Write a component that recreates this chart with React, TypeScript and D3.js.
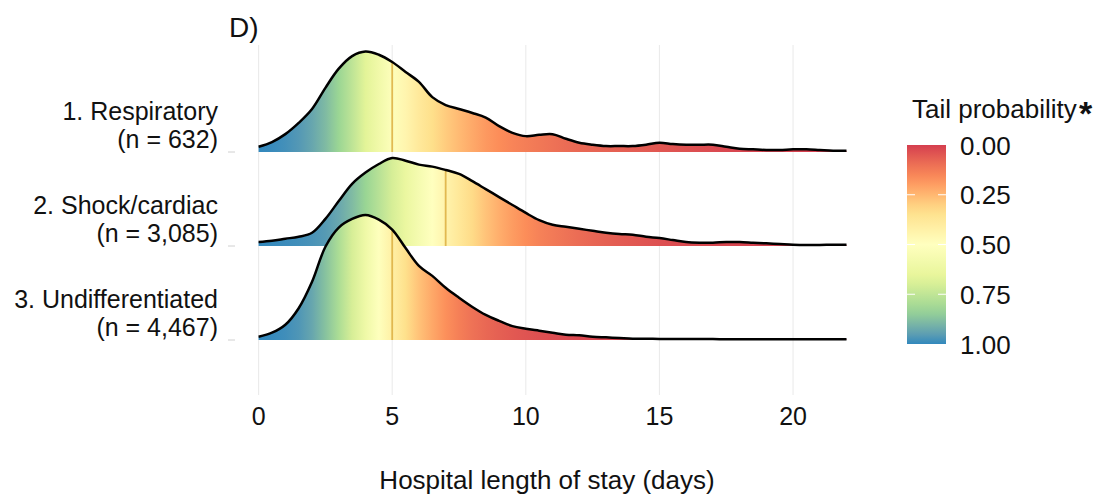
import * as d3 from "d3";

// ridge categories, top to bottom
const groups = ["1. Respiratory", "2. Shock/cardiac", "3. Undifferentiated"];
const groupN = ["(n = 632)", "(n = 3,085)", "(n = 4,467)"];
const medians = [5, 7, 5];

// density estimate grid (days) and densities (% per day)
const days = [
  0, 0.5, 1, 1.5, 2, 2.5, 3, 3.5, 4, 4.5, 5, 5.5, 6, 6.5, 7, 7.5, 8, 8.5, 9, 9.5, 10, 10.5,
  11, 11.5, 12, 12.5, 13, 13.5, 14, 14.5, 15, 15.5, 16, 16.5, 17, 17.5, 18, 18.5, 19, 19.5,
  20, 20.5, 21, 21.5, 22,
];
const respiratory = [
  0.8, 1.5, 2.7, 4.4, 6.5, 9.7, 12.6, 14.5, 15.2, 14.7, 13.6, 12.1, 10.6, 8.3, 7.1, 6.5,
  5.9, 5.2, 3.9, 2.9, 2.4, 2.6, 2.7, 2.0, 1.4, 1.1, 0.9, 0.9, 0.9, 1.1, 1.4, 1.2, 1.1, 1.1,
  1.1, 0.8, 0.5, 0.4, 0.3, 0.3, 0.4, 0.4, 0.3, 0.2, 0.2,
];
const shock = [
  0.6, 0.8, 1.1, 1.4, 2.0, 4.1, 6.8, 9.4, 11.1, 12.4, 13.3, 12.9, 12.3, 12.0, 11.5, 10.9,
  9.8, 8.6, 7.4, 6.2, 5.0, 3.9, 3.2, 2.9, 2.6, 2.3, 2.0, 1.8, 1.7, 1.4, 1.2, 0.9, 0.6, 0.5,
  0.5, 0.6, 0.6, 0.5, 0.4, 0.3, 0.2, 0.15, 0.15, 0.2, 0.2,
];
const undifferentiated = [
  0.5, 1.1, 2.3, 4.8, 8.8, 14.1, 17.0, 18.3, 18.9, 18.2, 16.7, 13.9, 11.2, 9.7, 7.9, 6.4,
  5.0, 3.8, 2.9, 2.1, 1.7, 1.4, 1.1, 0.8, 0.7, 0.5, 0.4, 0.3, 0.2, 0.2, 0.15, 0.15, 0.15,
  0.15, 0.15, 0.1, 0.1, 0.1, 0.1, 0.1, 0.1, 0.1, 0.1, 0.1, 0.1,
];
const densities = [respiratory, shock, undifferentiated];

const xTicks = [0, 5, 10, 15, 20];
const legendTicks = [0, 0.25, 0.5, 0.75, 1];
const spectral = ["#D53E4F", "#FC8D59", "#FEE08B", "#FFFFBF", "#E6F598", "#99D594", "#3288BD"];

const font = "'Liberation Sans', Arial, sans-serif";

export default function App() {
  const width = 1096;
  const height = 500;

  const x = d3.scaleLinear().domain([0, 22]).range([258.6, 846.5]);
  const base = d3.scalePoint<string>().domain(groups).range([152, 340]);
  const h = d3.scaleLinear().domain([0, 18.9]).range([0, 125]);

  const color = d3
    .scaleLinear<string>()
    .domain(d3.range(spectral.length).map((i) => i / (spectral.length - 1)))
    .range(spectral)
    .interpolate(d3.interpolateLab);

  // tail probability = 1 - ecdf, from the density curve
  const tails = densities.map((vals) => {
    const cum = [0];
    for (let i = 1; i < vals.length; i++) {
      cum.push(cum[i - 1] + ((vals[i - 1] + vals[i]) / 2) * (days[i] - days[i - 1]));
    }
    const total = cum[cum.length - 1];
    return cum.map((c) => 1 - c / total);
  });

  const legendY = d3.scaleLinear().domain([0, 1]).range([145, 344]);

  return (
    <svg
      width={width}
      height={height}
      style={{ position: "absolute", left: 0, top: 0, background: "#fff" }}
      fontFamily={font}
    >
      <defs>
        {groups.map((g, gi) => (
          <linearGradient
            key={g}
            id={`grad${gi}`}
            gradientUnits="userSpaceOnUse"
            x1={x(0)}
            x2={x(22)}
            y1={0}
            y2={0}
          >
            {days.map((d, i) => (
              <stop key={i} offset={(x(d) - x(0)) / (x(22) - x(0))} stopColor={color(tails[gi][i])} />
            ))}
          </linearGradient>
        ))}
        <linearGradient id="legendGrad" x1={0} x2={0} y1={0} y2={1}>
          {d3.range(0, 1.0001, 0.05).map((t) => (
            <stop key={t} offset={t} stopColor={color(t)} />
          ))}
        </linearGradient>
      </defs>

      <text x={229} y={37} fontSize={28} fill="#111">
        D)
      </text>

      {/* vertical grid */}
      {xTicks.map((t) => (
        <line key={t} x1={x(t)} x2={x(t)} y1={45} y2={395} stroke="#ebebeb" strokeWidth={1.1} />
      ))}

      {groups.map((g, gi) => {
        const y0 = base(g)!;
        const vals = densities[gi];
        const pts = days.map((d, i) => [d, vals[i]] as [number, number]);
        const area = d3
          .area<[number, number]>()
          .x((p) => x(p[0]))
          .y0(y0)
          .y1((p) => y0 - h(p[1]))
          .curve(d3.curveCatmullRom);
        const line = d3
          .line<[number, number]>()
          .x((p) => x(p[0]))
          .y((p) => y0 - h(p[1]))
          .curve(d3.curveCatmullRom);
        const mi = days.indexOf(medians[gi]);
        return (
          <g key={g}>
            <line x1={228} x2={235} y1={y0} y2={y0} stroke="#d0d0d0" strokeWidth={1} />
            <text x={218} y={y0 - 32} textAnchor="end" fontSize={25} fill="#111">
              {g}
            </text>
            <text x={218} y={y0 - 4} textAnchor="end" fontSize={25} fill="#111">
              {groupN[gi]}
            </text>
            <path d={area(pts)!} fill={`url(#grad${gi})`} />
            <line
              x1={x(medians[gi])}
              x2={x(medians[gi])}
              y1={y0}
              y2={y0 - h(vals[mi])}
              stroke="#dcae40"
              strokeWidth={1.8}
              strokeOpacity={0.85}
            />
            <path d={line(pts)!} fill="none" stroke="#000" strokeWidth={2.5} strokeLinejoin="round" />
          </g>
        );
      })}

      {/* x axis */}
      {xTicks.map((t) => (
        <text key={t} x={x(t)} y={425} textAnchor="middle" fontSize={25} fill="#111">
          {t}
        </text>
      ))}
      <text x={547} y={489} textAnchor="middle" fontSize={26} fill="#111">
        Hospital length of stay (days)
      </text>

      {/* legend */}
      <text x={912} y={118} fontSize={26} fill="#111">
        Tail probability
      </text>
      <text x={1079} y={125} fontSize={34} fontWeight="bold" fill="#111">
        *
      </text>
      <rect x={907} y={145} width={39} height={199} fill="url(#legendGrad)" />
      {legendTicks.map((t) => (
        <g key={t}>
          {t > 0 && t < 1 && (
            <>
              <line x1={907} x2={915} y1={legendY(t)} y2={legendY(t)} stroke="#fff" strokeWidth={1} />
              <line x1={938} x2={946} y1={legendY(t)} y2={legendY(t)} stroke="#fff" strokeWidth={1} />
            </>
          )}
          <text x={960} y={legendY(t) + 9.5} fontSize={26} fill="#111">
            {t.toFixed(2)}
          </text>
        </g>
      ))}
    </svg>
  );
}
